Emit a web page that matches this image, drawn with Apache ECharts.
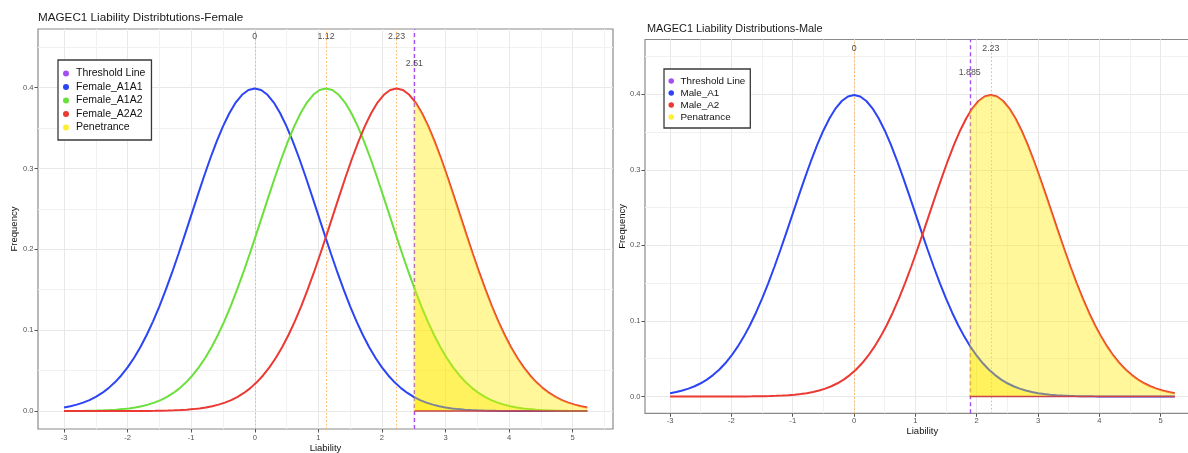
<!DOCTYPE html>
<html>
<head>
<meta charset="utf-8">
<script src="https://cdn.jsdelivr.net/npm/echarts@6/dist/echarts.min.js"></script>
<style>
  html, body { margin: 0; padding: 0; background: #ffffff; }
  #chart { width: 1188px; height: 453px; }
</style>
</head>
<body>
<div id="chart"></div>
<script>
// Liability densities, [liability, frequency], sd = 1
// A1A1 / A1: mean 0
const a1a1 = [[-3,0.00443],[-2.9,0.00595],[-2.8,0.00792],[-2.7,0.01042],[-2.6,0.01358],[-2.5,0.01753],[-2.4,0.02239],[-2.3,0.02833],[-2.2,0.03547],[-2.1,0.04398],[-2,0.05399],[-1.9,0.06562],[-1.8,0.07895],[-1.7,0.09405],[-1.6,0.11092],[-1.5,0.12952],[-1.4,0.14973],[-1.3,0.17137],[-1.2,0.19419],[-1.1,0.21785],[-1,0.24197],[-0.9,0.26609],[-0.8,0.28969],[-0.7,0.31225],[-0.6,0.33322],[-0.5,0.35207],[-0.4,0.36827],[-0.3,0.38139],[-0.2,0.39104],[-0.1,0.39695],[0,0.39894],[0.1,0.39695],[0.2,0.39104],[0.3,0.38139],[0.4,0.36827],[0.5,0.35207],[0.6,0.33322],[0.7,0.31225],[0.8,0.28969],[0.9,0.26609],[1,0.24197],[1.1,0.21785],[1.2,0.19419],[1.3,0.17137],[1.4,0.14973],[1.5,0.12952],[1.6,0.11092],[1.7,0.09405],[1.8,0.07895],[1.9,0.06562],[2,0.05399],[2.1,0.04398],[2.2,0.03547],[2.3,0.02833],[2.4,0.02239],[2.5,0.01753],[2.6,0.01358],[2.7,0.01042],[2.8,0.00792],[2.9,0.00595],[3,0.00443],[3.1,0.00327],[3.2,0.00238],[3.3,0.00172],[3.4,0.00123],[3.5,0.00087],[3.6,0.00061],[3.7,0.00042],[3.8,0.00029],[3.9,0.0002],[4,0.00013],[4.1,0.00009],[4.2,0.00006],[4.3,0.00004],[4.4,0.00002],[4.5,0.00002],[4.6,0.00001],[4.7,0.00001],[4.8,0],[4.9,0],[5,0],[5.1,0],[5.2,0],[5.23,0]];

// A1A2: mean 1.12
const a1a2 = [[-3,0.00008],[-2.98,0.00009],[-2.88,0.00013],[-2.78,0.0002],[-2.68,0.00029],[-2.58,0.00042],[-2.48,0.00061],[-2.38,0.00087],[-2.28,0.00123],[-2.18,0.00172],[-2.08,0.00238],[-1.98,0.00327],[-1.88,0.00443],[-1.78,0.00595],[-1.68,0.00792],[-1.58,0.01042],[-1.48,0.01358],[-1.38,0.01753],[-1.28,0.02239],[-1.18,0.02833],[-1.08,0.03547],[-0.98,0.04398],[-0.88,0.05399],[-0.78,0.06562],[-0.68,0.07895],[-0.58,0.09405],[-0.48,0.11092],[-0.38,0.12952],[-0.28,0.14973],[-0.18,0.17137],[-0.08,0.19419],[0.02,0.21785],[0.12,0.24197],[0.22,0.26609],[0.32,0.28969],[0.42,0.31225],[0.52,0.33322],[0.62,0.35207],[0.72,0.36827],[0.82,0.38139],[0.92,0.39104],[1.02,0.39695],[1.12,0.39894],[1.22,0.39695],[1.32,0.39104],[1.42,0.38139],[1.52,0.36827],[1.62,0.35207],[1.72,0.33322],[1.82,0.31225],[1.92,0.28969],[2.02,0.26609],[2.12,0.24197],[2.22,0.21785],[2.32,0.19419],[2.42,0.17137],[2.52,0.14973],[2.62,0.12952],[2.72,0.11092],[2.82,0.09405],[2.92,0.07895],[3.02,0.06562],[3.12,0.05399],[3.22,0.04398],[3.32,0.03547],[3.42,0.02833],[3.52,0.02239],[3.62,0.01753],[3.72,0.01358],[3.82,0.01042],[3.92,0.00792],[4.02,0.00595],[4.12,0.00443],[4.22,0.00327],[4.32,0.00238],[4.42,0.00172],[4.52,0.00123],[4.62,0.00087],[4.72,0.00061],[4.82,0.00042],[4.92,0.00029],[5.02,0.0002],[5.12,0.00013],[5.22,0.00009],[5.23,0.00009]];

// A2A2 / A2: mean 2.23
const a2a2 = [[-3,0],[-2.97,0],[-2.87,0],[-2.77,0],[-2.67,0],[-2.57,0],[-2.47,0.00001],[-2.37,0.00001],[-2.27,0.00002],[-2.17,0.00002],[-2.07,0.00004],[-1.97,0.00006],[-1.87,0.00009],[-1.77,0.00013],[-1.67,0.0002],[-1.57,0.00029],[-1.47,0.00042],[-1.37,0.00061],[-1.27,0.00087],[-1.17,0.00123],[-1.07,0.00172],[-0.97,0.00238],[-0.87,0.00327],[-0.77,0.00443],[-0.67,0.00595],[-0.57,0.00792],[-0.47,0.01042],[-0.37,0.01358],[-0.27,0.01753],[-0.17,0.02239],[-0.07,0.02833],[0.03,0.03547],[0.13,0.04398],[0.23,0.05399],[0.33,0.06562],[0.43,0.07895],[0.53,0.09405],[0.63,0.11092],[0.73,0.12952],[0.83,0.14973],[0.93,0.17137],[1.03,0.19419],[1.13,0.21785],[1.23,0.24197],[1.33,0.26609],[1.43,0.28969],[1.53,0.31225],[1.63,0.33322],[1.73,0.35207],[1.83,0.36827],[1.93,0.38139],[2.03,0.39104],[2.13,0.39695],[2.23,0.39894],[2.33,0.39695],[2.43,0.39104],[2.53,0.38139],[2.63,0.36827],[2.73,0.35207],[2.83,0.33322],[2.93,0.31225],[3.03,0.28969],[3.13,0.26609],[3.23,0.24197],[3.33,0.21785],[3.43,0.19419],[3.53,0.17137],[3.63,0.14973],[3.73,0.12952],[3.83,0.11092],[3.93,0.09405],[4.03,0.07895],[4.13,0.06562],[4.23,0.05399],[4.33,0.04398],[4.43,0.03547],[4.53,0.02833],[4.63,0.02239],[4.73,0.01753],[4.83,0.01358],[4.93,0.01042],[5.03,0.00792],[5.13,0.00595],[5.23,0.00443]];

// Group means and liability thresholds
const femaleMeans = [0, 1.12, 2.23];
const maleMeans = [0, 2.23];
const femaleThreshold = 2.51;
const maleThreshold = 1.885;
// Density of each curve at the threshold (same order as the curves)
const femaleThresholdDensity = [0.01710, 0.15183, 0.38361];
const maleThresholdDensity = [0.06751, 0.37589];

// Axis breaks
const xMajor = [-3, -2, -1, 0, 1, 2, 3, 4, 5];
const xMinor = [-3, -2.5, -2, -1.5, -1, -0.5, 0, 0.5, 1, 1.5, 2, 2.5, 3, 3.5, 4, 4.5, 5, 5.5];
const yMajor = [0, 0.1, 0.2, 0.3, 0.4];
const yMinor = [0, 0.05, 0.1, 0.15, 0.2, 0.25, 0.3, 0.35, 0.4, 0.45];

const FONT = '"Liberation Sans", Arial, Helvetica, sans-serif';
const X_RANGE = [-3.409, 5.634];
const Y_RANGE = [-0.0222, 0.4724];
const COL = {
  threshold: '#a54ff2',
  mean: '#ffb25c',
  blue: '#2b44f5',
  green: '#6be03c',
  red: '#ea3a33',
  pen: '#ffee33',
  penFill: 'rgba(255,236,0,0.40)'
};

function buildPanel(p) {
  const g = p.index;
  const xa = g * 2 + 1, ya = g * 2 + 1;

  const grid = Object.assign({
    show: true, borderColor: '#8a8a8a', borderWidth: 1.2,
    backgroundColor: 'transparent', containLabel: false, outerBoundsMode: 'none'
  }, p.rect);

  const xAxes = [
    {
      gridIndex: g, type: 'value', min: X_RANGE[0], max: X_RANGE[1], position: 'bottom',
      axisLine: { show: false, onZero: false },
      axisTick: { show: false, customValues: xMinor },
      axisLabel: { show: false },
      splitLine: { show: true, lineStyle: { color: '#f1f1f1', width: 1 } }
    },
    {
      gridIndex: g, type: 'value', min: X_RANGE[0], max: X_RANGE[1], position: 'bottom',
      name: 'Liability', nameLocation: 'middle', nameGap: p.xNameGap, nameMoveOverlap: false,
      nameTextStyle: { fontFamily: FONT, fontSize: 9.5, color: '#111' },
      axisLine: { show: false, onZero: false },
      axisTick: { show: true, customValues: xMajor, length: 3.5, lineStyle: { color: '#555', width: 1 } },
      axisLabel: { customValues: xMajor, margin: p.xLabelMargin, fontFamily: FONT, fontSize: 7.6, color: '#555',
        formatter: v => String(v) },
      splitLine: { show: true, lineStyle: { color: '#e8e8e8', width: 1 } }
    }
  ];

  const yAxes = [
    {
      gridIndex: g, type: 'value', min: Y_RANGE[0], max: Y_RANGE[1], position: 'left',
      axisLine: { show: false, onZero: false },
      axisTick: { show: false, customValues: yMinor },
      axisLabel: { show: false },
      splitLine: { show: true, lineStyle: { color: '#f1f1f1', width: 1 } }
    },
    {
      gridIndex: g, type: 'value', min: Y_RANGE[0], max: Y_RANGE[1], position: 'left',
      name: 'Frequency', nameLocation: 'middle', nameGap: p.yNameGap, nameRotate: 90, nameMoveOverlap: false,
      nameTextStyle: { fontFamily: FONT, fontSize: 9.5, color: '#111' },
      axisLine: { show: false, onZero: false },
      axisTick: { show: true, customValues: yMajor, length: 3.5, lineStyle: { color: '#555', width: 1 } },
      axisLabel: { customValues: yMajor, margin: 4.5, fontFamily: FONT, fontSize: 7.6, color: '#555',
        formatter: v => v.toFixed(1) },
      splitLine: { show: true, lineStyle: { color: '#e8e8e8', width: 1 } }
    }
  ];

  const series = [];
  const common = { xAxisIndex: xa, yAxisIndex: ya, symbol: 'none', silent: true, animation: false };

  // group means (dotted) and threshold (dashed) as full-height reference lines
  series.push(Object.assign({}, common, {
    type: 'line', name: 'Threshold Line', data: [],
    itemStyle: { color: COL.threshold }, lineStyle: { color: COL.threshold }, z: 1,
    markLine: {
      silent: true, symbol: 'none', z: 1, animation: false, label: { show: false },
      data: p.means.map(m => ({ xAxis: m, lineStyle: { color: COL.mean, type: [1.5, 2.2], width: 1 } }))
        .concat([{ xAxis: p.threshold, lineStyle: { color: COL.threshold, type: [4, 3], width: 1.4 } }])
    }
  }));

  // density curves
  p.curves.forEach(c => {
    series.push(Object.assign({}, common, {
      type: 'line', name: c.name, data: c.data,
      lineStyle: { color: c.color, width: 2 }, itemStyle: { color: c.color }, z: 3
    }));
  });

  // penetrance: area beyond the threshold under each curve
  p.curves.forEach((c, i) => {
    const area = [[p.threshold, p.thresholdDensity[i]]].concat(c.data.filter(pt => pt[0] > p.threshold));
    series.push(Object.assign({}, common, {
      type: 'line', name: p.penName, data: area,
      lineStyle: { width: 0, color: COL.pen }, itemStyle: { color: COL.pen },
      areaStyle: { color: COL.penFill, origin: 'auto', opacity: 1 },
      z: i === p.curves.length - 1 ? 4 : 2
    }));
  });

  // baseline of the shaded region
  const lastX = p.curves[0].data[p.curves[0].data.length - 1][0];
  series.push(Object.assign({}, common, {
    type: 'line', name: '', data: [[p.threshold, 0], [lastX, 0]],
    lineStyle: { color: '#c94348', width: 1.4 }, z: 5
  }));

  // value labels above the reference lines
  series.push({
    type: 'scatter', xAxisIndex: xa, yAxisIndex: ya, silent: true, animation: false,
    symbolSize: 0, z: 6,
    data: p.means.map(m => [m, p.meanLabelY, String(m)])
      .concat([[p.threshold, p.thresholdLabelY, String(p.threshold)]]),
    label: {
      show: true, position: 'inside', formatter: d => d.data[2],
      fontFamily: FONT, fontSize: 8.8, color: '#222'
    }
  });

  const legend = Object.assign({
    orient: 'vertical', icon: 'circle', selectedMode: false,
    data: ['Threshold Line'].concat(p.curves.map(c => c.name)).concat([p.penName]),
    borderColor: '#3a3a3a', borderWidth: 1.3, backgroundColor: '#ffffff',
    textStyle: { fontFamily: FONT, color: '#111' }
  }, p.legend);

  const title = {
    text: p.title, left: p.titlePos.left, top: p.titlePos.top, padding: 0,
    textStyle: { fontFamily: FONT, fontSize: p.titleSize, fontWeight: 'normal', color: '#1a1a1a' }
  };

  return { grid, xAxes, yAxes, series, legend, title };
}

const female = buildPanel({
  index: 0,
  title: 'MAGEC1 Liability Distribtutions-Female',
  titlePos: { left: 38, top: 12 }, titleSize: 11.7,
  rect: { left: 38, top: 29, width: 575, height: 400 },
  xNameGap: 14, xLabelMargin: 4.5, yNameGap: 19,
  means: femaleMeans, threshold: femaleThreshold, thresholdDensity: femaleThresholdDensity,
  meanLabelY: 0.463, thresholdLabelY: 0.43,
  penName: 'Penetrance',
  curves: [
    { name: 'Female_A1A1', data: a1a1, color: COL.blue },
    { name: 'Female_A1A2', data: a1a2, color: COL.green },
    { name: 'Female_A2A2', data: a2a2, color: COL.red }
  ],
  legend: {
    left: 58, top: 60, itemWidth: 6, itemHeight: 6, itemGap: 2.5, padding: [8, 6, 7, 5],
    textStyle: { fontFamily: FONT, color: '#111', fontSize: 10.5, padding: [0, 0, 0, 2] }
  }
});

const male = buildPanel({
  index: 1,
  title: 'MAGEC1 Liability Distributions-Male',
  titlePos: { left: 647, top: 23.5 }, titleSize: 10.9,
  rect: { left: 645, top: 39.5, width: 554.6, height: 373.8 },
  xNameGap: 12.7, xLabelMargin: 3.6, yNameGap: 17.3,
  means: maleMeans, threshold: maleThreshold, thresholdDensity: maleThresholdDensity,
  meanLabelY: 0.461, thresholdLabelY: 0.428,
  penName: 'Penatrance',
  curves: [
    { name: 'Male_A1', data: a1a1, color: COL.blue },
    { name: 'Male_A2', data: a2a2, color: COL.red }
  ],
  legend: {
    left: 664, top: 69, itemWidth: 5.5, itemHeight: 5.5, itemGap: 2, padding: [7, 5, 6, 4.5],
    textStyle: { fontFamily: FONT, color: '#111', fontSize: 9.8, padding: [0, 0, 0, 1.5] }
  }
});

const chart = echarts.init(document.getElementById('chart'), null, { renderer: 'canvas' });
chart.setOption({
  animation: false,
  backgroundColor: '#ffffff',
  title: [female.title, male.title],
  legend: [female.legend, male.legend],
  grid: [female.grid, male.grid],
  xAxis: female.xAxes.concat(male.xAxes),
  yAxis: female.yAxes.concat(male.yAxes),
  series: female.series.concat(male.series)
});
</script>
</body>
</html>
